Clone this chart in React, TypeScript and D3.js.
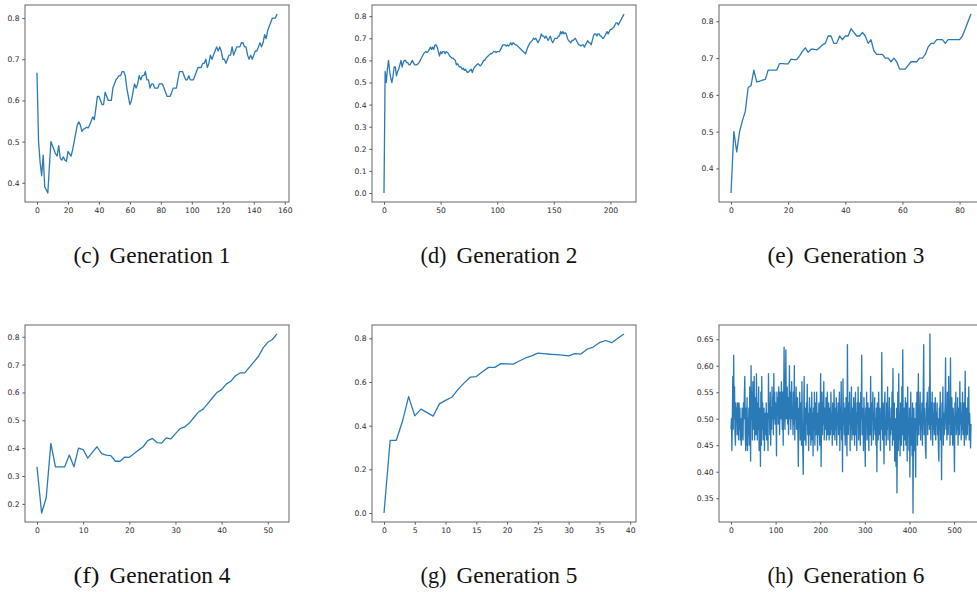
import React, { useEffect, useRef } from 'react';
import * as d3 from 'd3';

// accuracy per step
const gen1 = [
  .667, .50, .45, .417, .467, .39, .383, .375, .44, .50, .49, .48, .47, .465, .49, .46, .455, .463, .455, .452,
  .476, .47, .465, .48, .50, .52, .54, .548, .54, .525, .53, .532, .535, .533, .54, .55, .56, .553, .58, .61,
  .61, .60, .59, .59, .62, .61, .60, .60, .60, .63, .64, .65, .655, .66, .66, .67, .67, .66, .63, .61,
  .59, .60, .62, .64, .63, .64, .66, .65, .66, .66, .67, .65, .65, .63, .64, .64, .63, .63, .63, .64,
  .64, .64, .63, .62, .61, .61, .61, .62, .63, .63, .63, .65, .67, .67, .67, .66, .65, .65, .66, .65,
  .65, .65, .66, .67, .68, .68, .68, .69, .69, .70, .68, .69, .71, .70, .71, .72, .73, .72, .73, .72,
  .70, .70, .69, .70, .71, .71, .73, .71, .72, .73, .73, .73, .74, .74, .73, .73, .71, .70, .71, .70,
  .71, .72, .72, .73, .74, .73, .74, .76, .75, .77, .78, .79, .80, .80, .80, .81,
];

const gen2 = [
  0, .55, .50, .56, .60, .55, .52, .50, .53, .57, .57, .53, .55, .56, .58, .60, .57, .59, .60, .60,
  .59, .59, .58, .58, .59, .60, .59, .58, .58, .58, .585, .59, .60, .61, .62, .63, .635, .64, .635, .64,
  .65, .66, .65, .66, .65, .67, .67, .66, .64, .62, .64, .63, .64, .64, .63, .64, .635, .63, .62, .615,
  .61, .61, .605, .60, .58, .585, .575, .57, .57, .56, .565, .555, .56, .55, .545, .55, .555, .56, .545, .56,
  .57, .575, .58, .585, .58, .575, .58, .59, .60, .60, .61, .615, .62, .625, .63, .63, .635, .64, .64, .635,
  .64, .64, .64, .65, .66, .67, .67, .67, .665, .67, .665, .67, .68, .67, .68, .675, .67, .67, .665, .66,
  .655, .65, .645, .64, .635, .63, .645, .66, .67, .68, .685, .69, .70, .695, .70, .69, .68, .69, .70, .72,
  .71, .71, .70, .71, .70, .69, .70, .71, .69, .68, .69, .70, .70, .70, .71, .71, .73, .72, .73, .72,
  .725, .72, .70, .69, .685, .68, .69, .69, .695, .70, .69, .68, .67, .67, .665, .67, .67, .66, .67, .68,
  .69, .68, .68, .67, .69, .71, .72, .72, .71, .72, .72, .71, .71, .70, .70, .71, .72, .73, .72, .73,
  .74, .74, .745, .75, .76, .77, .77, .76, .77, .78, .79, .80, .81,
];

const gen3 = [
  .333, .50, .445, .50, .53, .555, .62, .625, .667, .635, .637, .64, .642, .667, .667, .667, .667, .685, .685, .684,
  .684, .697, .696, .696, .706, .718, .728, .716, .724, .724, .722, .728, .736, .74, .76, .76, .74, .74, .76, .75,
  .76, .76, .78, .77, .76, .76, .77, .76, .74, .75, .72, .71, .71, .71, .70, .70, .69, .70, .69, .67,
  .67, .67, .68, .69, .69, .69, .70, .70, .71, .73, .74, .74, .75, .75, .75, .74, .75, .75, .75, .75,
  .75, .76, .78, .80, .82,
];

const gen4 = [
  .333, .167, .222, .417, .333, .333, .333, .375, .333, .40, .395, .364, .385, .405, .38, .375, .373, .353, .353, .368,
  .367, .38, .393, .405, .427, .435, .42, .418, .437, .433, .452, .47, .476, .49, .51, .53, .54, .56, .58, .60,
  .61, .63, .64, .66, .67, .67, .69, .71, .73, .76, .78, .79, .81,
];

const gen5 = [
  0, .333, .333, .42, .533, .445, .476, .46, .444, .50, .516, .53, .565, .595, .622, .625, .647, .667, .667, .684,
  .683, .682, .696, .71, .72, .732, .73, .727, .725, .723, .72, .73, .728, .75, .76, .78, .79, .78, .80, .82,
];

const gen6 = [
  .48, .50, .44, .50, .58, .48, .62, .50, .56, .47, .45, .53, .50, .52, .47, .53, .50, .46, .53, .48,
  .52, .46, .50, .45, .47, .52, .49, .46, .53, .50, .55, .58, .47, .44, .52, .45, .54, .44, .50, .47,
  .52, .45, .56, .48, .42, .60, .50, .55, .46, .57, .52, .48, .58, .46, .54, .50, .47, .585, .52, .46,
  .53, .48, .56, .44, .51, .52, .41, .55, .45, .58, .48, .53, .46, .50, .52, .44, .49, .51, .47, .53,
  .46, .51, .49, .44, .585, .50, .53, .47, .55, .45, .52, .48, .56, .50, .54, .47, .585, .50, .55, .49,
  .53, .50, .43, .55, .51, .54, .49, .56, .52, .47, .55, .53, .50, .57, .52, .48, .55, .45, .53, .635,
  .52, .48, .55, .63, .50, .53, .56, .49, .54, .47, .52, .60, .50, .55, .48, .53, .57, .50, .52, .47,
  .55, .49, .60, .46, .53, .50, .56, .48, .51, .54, .47, .41, .52, .50, .55, .46, .49, .53, .45, .57,
  .48, .44, .395, .50, .58, .46, .52, .48, .45, .53, .49, .565, .47, .51, .44, .50, .54, .47, .52, .45,
  .49, .55, .46, .51, .43, .52, .48, .55, .45, .50, .53, .47, .55, .49, .44, .51, .47, .53, .48, .45,
  .52, .585, .41, .50, .55, .47, .53, .49, .57, .46, .52, .50, .48, .54, .46, .51, .55, .47, .49, .53,
  .46, .52, .50, .47, .55, .48, .51, .45, .53, .49, .47, .555, .50, .46, .52, .48, .54, .45, .51, .49,
  .53, .47, .50, .55, .44, .52, .48, .57, .46, .51, .40, .575, .49, .53, .47, .52, .45, .50, .54, .48,
  .43, .64, .50, .47, .53, .49, .55, .44, .51, .48, .56, .46, .52, .50, .47, .54, .49, .45, .52, .55,
  .47, .51, .44, .53, .49, .56, .46, .50, .53, .48, .45, .55, .50, .62, .47, .52, .49, .44, .54, .50,
  .47, .41, .52, .49, .55, .46, .51, .53, .48, .44, .52, .50, .47, .58, .49, .45, .53, .50, .55, .46,
  .51, .48, .54, .47, .50, .45, .52, .40, .53, .49, .46, .55, .50, .47, .52, .44, .51, .48, .625, .50,
  .46, .53, .49, .415, .52, .55, .47, .50, .45, .53, .48, .56, .46, .51, .49, .54, .44, .50, .47, .52,
  .48, .55, .45, .595, .49, .46, .53, .42, .50, .47, .41, .52, .36, .48, .55, .44, .585, .46, .51, .43,
  .53, .48, .45, .56, .47, .63, .49, .44, .52, .46, .50, .54, .45, .48, .53, .42, .56, .47, .50, .44,
  .52, .39, .48, .55, .45, .50, .43, .53, .322, .47, .52, .44, .50, .46, .39, .53, .48, .55, .45, .50,
  .585, .47, .52, .49, .55, .46, .51, .48, .53, .45, .50, .56, .64, .47, .52, .49, .44, .425, .53, .50,
  .55, .47, .52, .49, .56, .48, .66, .50, .46, .53, .49, .55, .45, .51, .48, .53, .47, .50, .54, .46,
  .51, .49, .53, .47, .50, .44, .42, .52, .48, .55, .46, .50, .385, .53, .49, .56, .45, .51, .47, .50,
  .53, .615, .48, .52, .46, .55, .50, .47, .58, .49, .53, .45, .615, .50, .47, .54, .49, .45, .52, .50,
  .46, .40, .53, .49, .55, .47, .51, .48, .54, .45, .50, .52, .47, .57, .49, .53, .46, .51, .48, .55,
  .47, .50, .53, .45, .51, .59, .48, .46, .52, .50, .47, .54, .49, .56, .46, .51, .48, .445, .49,
];

const labels = ['(c)', '(d)', '(e)', '(f)', '(g)', '(h)'];
const titles = ['Generation 1', 'Generation 2', 'Generation 3', 'Generation 4', 'Generation 5', 'Generation 6'];

const xTicks = [
  [0, 20, 40, 60, 80, 100, 120, 140, 160],
  [0, 50, 100, 150, 200],
  [0, 20, 40, 60, 80],
  [0, 10, 20, 30, 40, 50],
  [0, 5, 10, 15, 20, 25, 30, 35, 40],
  [0, 100, 200, 300, 400, 500],
];
const yTicks = [
  [0.4, 0.5, 0.6, 0.7, 0.8],
  [0.0, 0.1, 0.2, 0.3, 0.4, 0.5, 0.6, 0.7, 0.8],
  [0.4, 0.5, 0.6, 0.7, 0.8],
  [0.2, 0.3, 0.4, 0.5, 0.6, 0.7, 0.8],
  [0.0, 0.2, 0.4, 0.6, 0.8],
  [0.35, 0.40, 0.45, 0.50, 0.55, 0.60, 0.65],
];
const yFormats = ['.1f', '.1f', '.1f', '.1f', '.1f', '.2f'];
const series = [gen1, gen2, gen3, gen4, gen5, gen6];

// layout
const W = 264;
const H = 197;
const colLeft = [25, 372, 719];
const rowTop = [5, 325];
const captionBase = [263, 583];

const Panel = ({ values, xt, yt, yFmt, left, top }) => {
  const ref = useRef<SVGGElement>(null);

  useEffect(() => {
    const g = d3.select(ref.current);
    g.selectAll('*').remove();

    const n = values.length - 1;
    const x = d3.scaleLinear().domain([-0.05 * n, 1.05 * n]).range([0, W]);
    const [lo, hi] = d3.extent(values) as [number, number];
    const pad = (hi - lo) * 0.05;
    const y = d3.scaleLinear().domain([lo - pad, hi + pad]).range([H, 0]);

    const line = d3.line<number>()
      .x((d, i) => x(i))
      .y(d => y(d));

    g.append('path')
      .datum(values)
      .attr('fill', 'none')
      .attr('stroke', '#2a7ab8')
      .attr('stroke-width', 1.3)
      .attr('stroke-linejoin', 'round')
      .attr('d', line);

    const xAxis = g.append('g')
      .attr('transform', `translate(0,${H})`)
      .call(d3.axisBottom(x).tickValues(xt).tickFormat(d3.format('d')).tickSize(2.6).tickPadding(3.2));

    const yAxis = g.append('g')
      .call(d3.axisLeft(y).tickValues(yt).tickFormat(d3.format(yFmt)).tickSize(2.6).tickPadding(2.8));

    [xAxis, yAxis].forEach(a => {
      a.select('.domain').remove();
      a.selectAll('line').attr('stroke', '#444').attr('stroke-width', 0.9);
      a.selectAll('text')
        .attr('fill', '#2b2b2b')
        .style('font-family', '"DejaVu Sans", sans-serif')
        .style('font-size', '7.6px');
    });

    // spines on top
    g.append('rect')
      .attr('x', 0)
      .attr('y', 0)
      .attr('width', W)
      .attr('height', H)
      .attr('fill', 'none')
      .attr('stroke', '#666')
      .attr('stroke-width', 1);
  }, [values, xt, yt, yFmt]);

  return <g ref={ref} transform={`translate(${left},${top})`} />;
};

export default function App() {
  return (
    <svg width={977} height={592} style={{ position: 'absolute', left: 0, top: 0, background: '#fff' }}>
      <rect width={977} height={592} fill="#fff" />
      {series.map((values, i) => {
        const col = i % 3;
        const row = Math.floor(i / 3);
        const left = colLeft[col];
        const top = rowTop[row];
        const cx = left + W / 2 - 5;
        return (
          <g key={i}>
            <Panel values={values} xt={xTicks[i]} yt={yTicks[i]} yFmt={yFormats[i]} left={left} top={top} />
            <text x={cx - 78.5} y={captionBase[row]} fontFamily='"Liberation Serif", "Times New Roman", serif'
              fontSize={23.5} fill="#111" textLength={26} lengthAdjust="spacingAndGlyphs">{labels[i]}</text>
            <text x={cx - 42.5} y={captionBase[row]} fontFamily='"Liberation Serif", "Times New Roman", serif'
              fontSize={23.5} fill="#111" textLength={121} lengthAdjust="spacingAndGlyphs">{titles[i]}</text>
          </g>
        );
      })}
    </svg>
  );
}
